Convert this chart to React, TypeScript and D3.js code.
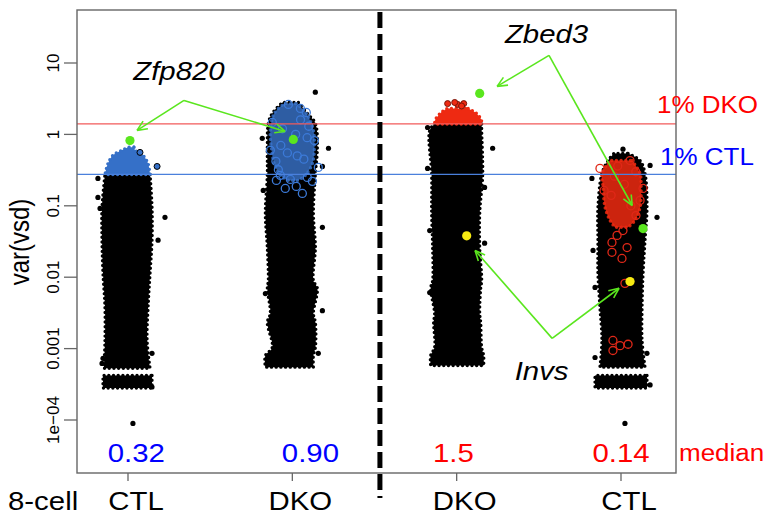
import React, { useEffect, useRef } from 'react';
import * as d3 from 'd3';

// columns: 8-cell CTL, DKO | DKO, CTL
const groups = ['CTL', 'DKO', 'DKO', 'CTL'];
const medians = ['0.32', '0.90', '1.5', '0.14'];
const medianColors = ['#0000ff', '#0000ff', '#ff0000', '#ff0000'];
const yTicks = [1e-4, 1e-3, 1e-2, 1e-1, 1, 10];
const yTickLabels = ['1e\u221204', '0.001', '0.01', '0.1', '1', '10'];
const cutDKO = 1.4;
const cutCTL = 0.275;

// jittered clouds: [var(vsd), left jitter, right jitter]
const cloud1 = [
  [0.275, -0.14, 0.134], [0.095, -0.158, 0.146], [0.033, -0.158, 0.146],
  [0.0113, -0.152, 0.134], [0.0038, -0.14, 0.122], [0.0013, -0.14, 0.116],
  [0.00053, -0.146, 0.134],
];
const floor1 = [[0.00042, -0.152, 0.146], [0.00028, -0.152, 0.146]];
const cap1 = [
  [0.66, 0, 0.037], [0.6, -0.037, 0.043], [0.51, -0.091, 0.091],
  [0.39, -0.122, 0.122], [0.275, -0.14, 0.134],
];
const cloud2 = [
  [2.8, -0.061, 0.037], [1.97, -0.122, 0.091], [1.43, -0.146, 0.14],
  [0.66, -0.152, 0.152], [0.275, -0.152, 0.14], [0.078, -0.164, 0.128],
  [0.026, -0.152, 0.14], [0.009, -0.146, 0.128], [0.007, -0.152, 0.152],
  [0.0031, -0.134, 0.128], [0.00233, -0.152, 0.14], [0.00104, -0.122, 0.14],
  [0.0008, -0.164, 0.128], [0.00055, -0.164, 0.128],
];
const core2 = [
  [2.7, -0.049, 0.024], [1.97, -0.11, 0.085], [1.14, -0.134, 0.128],
  [0.66, -0.128, 0.134], [0.39, -0.11, 0.122], [0.267, -0.073, 0.079],
  [0.227, -0.024, 0.037],
];
const cloud3 = [
  [1.4, -0.134, 0.152], [1.14, -0.164, 0.152], [0.275, -0.152, 0.158],
  [0.078, -0.152, 0.14], [0.026, -0.146, 0.14], [0.009, -0.146, 0.152],
  [0.007, -0.158, 0.146], [0.0031, -0.134, 0.14], [0.00233, -0.14, 0.146],
  [0.00104, -0.134, 0.152], [0.0008, -0.158, 0.164], [0.00058, -0.158, 0.164],
];
const cap3 = [
  [2.3, -0.06, 0.07], [1.97, -0.1, 0.12], [1.6, -0.13, 0.15], [1.4, -0.134, 0.152],
];
const cloud4 = [
  [0.54, -0.043, 0.043], [0.43, -0.079, 0.116], [0.284, -0.116, 0.146],
  [0.095, -0.14, 0.158], [0.033, -0.14, 0.146], [0.0113, -0.14, 0.134],
  [0.0038, -0.128, 0.128], [0.0013, -0.116, 0.128], [0.00055, -0.128, 0.146],
];
const floor4 = [[0.00042, -0.158, 0.158], [0.00028, -0.158, 0.158]];
const core4 = [
  [0.43, -0.067, 0.067], [0.284, -0.116, 0.116], [0.193, -0.11, 0.122],
  [0.095, -0.097, 0.116], [0.0625, -0.067, 0.085], [0.05, -0.037, 0.043],
];

// stray points: [var(vsd), jitter]
const stray1 = [
  [0.242, -0.183], [0.131, -0.183], [0.069, 0.225], [0.033, 0.183], [0.092, -0.17],
  [0.00062, -0.158], [0.00073, -0.152], [0.00086, 0.146], [0.00029, 0.146], [0.0000895, 0.03],
];
const stray2 = [
  [3.9, 0.14], [0.64, 0.22], [0.356, 0.183], [0.88, -0.183], [0.164, -0.177],
  [0.05, 0.183], [0.0034, 0.183], [0.0059, -0.164], [0.00086, 0.158],
];
const stray3 = [
  [0.64, 0.219], [1.25, -0.177], [0.334, -0.177], [0.045, -0.164], [0.0061, -0.164],
  [0.181, 0.17], [0.03, 0.17],
];
const stray4 = [
  [0.62, 0.012], [0.242, -0.177], [0.069, 0.219], [0.368, 0.177], [0.0237, -0.17],
  [0.0072, -0.158], [0.00075, -0.158], [0.00086, 0.158], [0.00031, 0.177], [0.0000895, 0.024],
];
const blueCap1 = [[0.56, 0.073], [0.356, 0.177]];
const redCap3 = [[2.7, -0.055], [2.63, 0.006], [2.7, 0.043], [2.8, -0.012], [2.5, 0.03]];

// highlighted genes, open circles
const blueRings2 = [
  [0.267, -0.073], [0.234, -0.012], [0.25, 0.091], [0.22, 0.122], [0.175, -0.043],
  [0.149, 0.061], [0.32, -0.085], [0.345, 0.158], [0.227, -0.097], [0.187, 0.024],
  [0.6, -0.134], [0.82, 0.134], [1.47, -0.122], [2.03, 0.085], [2.63, -0.024], [2.31, 0.049],
  [1.2, -0.06], [0.9, 0.09], [0.5, 0.03], [0.42, -0.1], [1.6, 0.05],
  [0.7, -0.07], [0.45, 0.07], [1.0, 0.02], [0.55, -0.03], [1.3, 0.1],
];
const redRings4 = [
  [0.0307, -0.055], [0.0385, -0.024], [0.045, 0.012], [0.026, 0.037], [0.0223, -0.055],
  [0.0183, 0.006], [0.0082, 0.024], [0.0013, -0.049], [0.0011, -0.006], [0.00115, 0.043],
  [0.00094, -0.049], [0.164, -0.103], [0.119, 0.116], [0.175, 0.134], [0.334, -0.128],
  [0.43, 0.055], [0.073, 0.091], [0.3, 0.09], [0.26, -0.04],
  [0.2, 0.02], [0.14, -0.06], [0.1, 0.06], [0.36, -0.02],
];

// named genes: [column, var(vsd), jitter]
const zfp820 = [[1, 0.82, 0.012], [2, 0.85, 0.006]];
const zbed3 = [[3, 3.75, 0.14], [4, 0.048, 0.134]];
const invs = [[3, 0.038, 0.061], [4, 0.0087, 0.055]];

const FONT = '"Liberation Sans", Arial, Helvetica, sans-serif';
const STRETCH = 1.13;
const GREEN = '#5ae61e';

const App = () => {
  const svgRef = useRef<SVGSVGElement>(null);

  useEffect(() => {
    const svg = d3.select(svgRef.current);
    svg.selectAll('*').remove();

    const box = { left: 77, right: 676, top: 10, bottom: 473 };
    const x = d3.scaleLinear().domain([1, 4]).range([128, 621]);
    const y = d3.scaleLog().domain([1e-4, 10]).range([420, 63]);

    const text = (t, px, py, size, color, anchor = 'middle', italic = false) =>
      svg.append('text')
        .attr('transform', `translate(${px},${py}) scale(${STRETCH},1)`)
        .attr('text-anchor', anchor)
        .attr('font-family', FONT)
        .attr('font-size', size)
        .attr('font-style', italic ? 'italic' : 'normal')
        .attr('fill', color)
        .text(t);

    const area = (col) => d3.area()
      .y(d => y(d[0]))
      .x0(d => x(col + d[1]))
      .x1(d => x(col + d[2]))
      .curve(d3.curveCatmullRom);

    const blob = (col, rows, fill, opacity = 1) => {
      svg.append('path')
        .attr('d', area(col)(rows))
        .attr('fill', fill)
        .attr('fill-opacity', opacity)
        .attr('stroke', fill)
        .attr('stroke-opacity', opacity)
        .attr('stroke-width', 3.4)
        .attr('stroke-linecap', 'round')
        .attr('stroke-dasharray', '0 4.7');
    };

    const dots = (col, rows, fill, r = 2.6, stroke = 'none') => {
      svg.append('g').selectAll('circle')
        .data(rows)
        .enter()
        .append('circle')
        .attr('cx', d => x(col + d[1]))
        .attr('cy', d => y(d[0]))
        .attr('r', r)
        .attr('fill', fill)
        .attr('stroke', stroke);
    };

    const rings = (col, rows, color) => {
      svg.append('g').selectAll('circle')
        .data(rows)
        .enter()
        .append('circle')
        .attr('cx', d => x(col + d[1]))
        .attr('cy', d => y(d[0]))
        .attr('r', 4)
        .attr('fill', 'none')
        .attr('stroke', color)
        .attr('stroke-width', 1.3);
    };

    // black clouds
    blob(1, cloud1, '#000');
    blob(1, floor1, '#000');
    blob(2, cloud2, '#000');
    blob(3, cloud3, '#000');
    blob(4, cloud4, '#000');
    blob(4, floor4, '#000');
    dots(1, stray1, '#000');
    dots(2, stray2, '#000');
    dots(3, stray3, '#000');
    dots(4, stray4, '#000');

    // top 1% caps
    blob(1, cap1, '#3570c8');
    dots(1, blueCap1, '#3570c8', 3, '#000');
    blob(3, cap3, '#ee2a12');
    dots(3, redCap3, '#ee2a12', 3, '#7a1408');

    // genes above the cut in the other condition
    blob(2, core2, '#3a74cc', 0.8);
    rings(2, blueRings2, '#3c7ad8');
    blob(4, core4, '#f02a10', 0.85);
    rings(4, redRings4, '#e02818');

    // cut lines
    svg.append('line')
      .attr('x1', box.left).attr('x2', box.right)
      .attr('y1', y(cutDKO)).attr('y2', y(cutDKO))
      .attr('stroke', '#f25a5a').attr('stroke-width', 1.3);
    svg.append('line')
      .attr('x1', box.left).attr('x2', box.right)
      .attr('y1', y(cutCTL)).attr('y2', y(cutCTL))
      .attr('stroke', '#4a80dc').attr('stroke-width', 1.3);

    // named genes
    [zfp820, zbed3].forEach(pts => {
      svg.append('g').selectAll('circle')
        .data(pts).enter().append('circle')
        .attr('cx', d => x(d[0] + d[2])).attr('cy', d => y(d[1]))
        .attr('r', 4.6).attr('fill', GREEN);
    });
    svg.append('g').selectAll('circle')
      .data(invs).enter().append('circle')
      .attr('cx', d => x(d[0] + d[2])).attr('cy', d => y(d[1]))
      .attr('r', 4.6).attr('fill', '#f7ea12');

    // arrows
    const arrows = [
      { name: 'Zfp820', at: [1.31, 5.7], from: [1.341, 2.99], to: [[1.055, 1.14], [1.956, 1.1]] },
      { name: 'Zbed3', at: [3.547, 18.8], from: [3.562, 12.8], to: [[3.246, 4.7], [4.068, 0.101]] },
      { name: 'Invs', at: [3.517, 0.000359], from: [3.581, 0.00139], to: [[3.112, 0.0237], [3.988, 0.007]] },
    ];
    arrows.forEach(a => {
      const x0 = x(a.from[0]);
      const y0 = y(a.from[1]);
      a.to.forEach(t => {
        const x1 = x(t[0]);
        const y1 = y(t[1]);
        const ang = Math.atan2(y1 - y0, x1 - x0);
        svg.append('line')
          .attr('x1', x0).attr('y1', y0).attr('x2', x1).attr('y2', y1)
          .attr('stroke', GREEN).attr('stroke-width', 1.6);
        [-0.42, 0.42].forEach(da => {
          svg.append('line')
            .attr('x1', x1).attr('y1', y1)
            .attr('x2', x1 - 11 * Math.cos(ang + da))
            .attr('y2', y1 - 11 * Math.sin(ang + da))
            .attr('stroke', GREEN).attr('stroke-width', 1.6);
        });
      });
      text(a.name, x(a.at[0]), y(a.at[1]), 26, '#000', 'middle', true);
    });

    // frame
    svg.append('rect')
      .attr('x', box.left).attr('y', box.top)
      .attr('width', box.right - box.left).attr('height', box.bottom - box.top)
      .attr('fill', 'none').attr('stroke', '#666').attr('stroke-width', 1.4);

    // separator
    svg.append('line')
      .attr('x1', x(2.533)).attr('x2', x(2.533))
      .attr('y1', 12).attr('y2', 498)
      .attr('stroke', '#000').attr('stroke-width', 5)
      .attr('stroke-dasharray', '16 6');

    // y axis
    yTicks.forEach((v, i) => {
      svg.append('line')
        .attr('x1', 64).attr('x2', box.left)
        .attr('y1', y(v)).attr('y2', y(v))
        .attr('stroke', '#666').attr('stroke-width', 1.3);
      svg.append('text')
        .attr('transform', `translate(59,${y(v)}) rotate(-90)`)
        .attr('text-anchor', 'middle')
        .attr('font-family', FONT)
        .attr('font-size', 17)
        .attr('fill', '#000')
        .text(yTickLabels[i]);
    });
    svg.append('text')
      .attr('transform', `translate(29,242) scale(${STRETCH},1) rotate(-90)`)
      .attr('text-anchor', 'middle')
      .attr('font-family', FONT)
      .attr('font-size', 24)
      .attr('fill', '#000')
      .text('var(vsd)');

    // x axis
    groups.forEach((g, i) => {
      svg.append('line')
        .attr('x1', x(i + 1)).attr('x2', x(i + 1))
        .attr('y1', box.bottom).attr('y2', box.bottom + 8)
        .attr('stroke', '#666').attr('stroke-width', 1.3);
      text(g, x(i + 1) + 8, 510, 26, '#000');
    });
    text('8-cell', 8, 510, 26, '#000', 'start');

    // medians
    const medianAt = [1.05, 2.11, 2.98, 4.0];
    medians.forEach((m, i) => text(m, x(medianAt[i]), 462, 26, medianColors[i]));
    text('median', 679, 461, 23, '#ff0000', 'start');

    // cut labels
    text('1% DKO', 657, y(cutDKO) - 11, 23, '#ff0000', 'start');
    text('1% CTL', 660, y(cutCTL) - 9, 23, '#0000ff', 'start');
  }, []);

  return (
    <svg
      ref={svgRef}
      width={767}
      height={515}
      style={{ position: 'absolute', left: 0, top: 0, background: '#fff' }}
    ></svg>
  );
};

export default App;
